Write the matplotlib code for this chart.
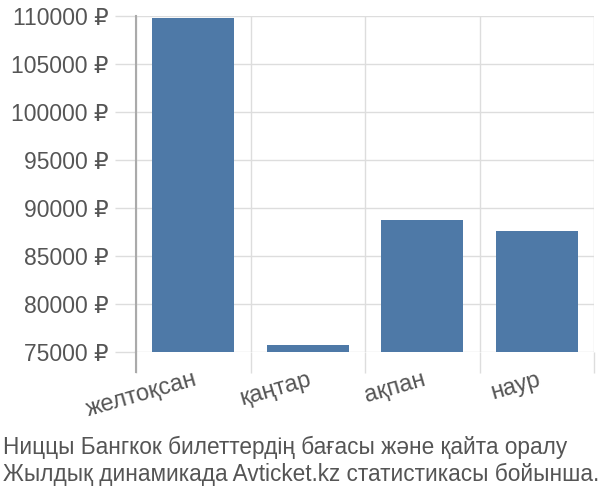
import matplotlib
matplotlib.use("Agg")
import matplotlib.pyplot as plt
from matplotlib.ticker import FixedLocator, FuncFormatter

plt.rcParams['font.family'] = ['Liberation Sans', 'DejaVu Sans']

months = ['желтоқсан', 'қаңтар', 'ақпан', 'наур']
prices = [109800, 75700, 88700, 87600]
y_ticks = [75000, 80000, 85000, 90000, 95000, 100000, 105000, 110000]
title = ('Ниццы Бангкок билеттердің бағасы және қайта оралу\n'
         'Жылдық динамикада Avticket.kz статистикасы бойынша.')

text_color = '#555555'
grid_color = '#dddddd'

fig = plt.figure(figsize=(6, 5), dpi=100)
ax = fig.add_axes([0.2267, 0.296, 0.7633, 0.672])

x = list(range(len(months)))
ax.bar(x, prices, width=0.72, color='#4e79a7', zorder=3)

ax.set_xlim(-0.5, len(months) - 0.5)
ax.set_ylim(y_ticks[0], y_ticks[-1])

# y ticks + grid
ax.yaxis.set_major_locator(FixedLocator(y_ticks))
ax.yaxis.set_major_formatter(FuncFormatter(lambda v, p: f'{int(v)} ₽'))
ax.tick_params(axis='y', length=15, width=1, color=grid_color,
               labelsize=16.5, labelcolor=text_color, pad=5)
ax.grid(axis='y', color=grid_color, linewidth=1, zorder=0)

# x: boundaries as minor ticks with grid, labels at centres
ax.xaxis.set_major_locator(FixedLocator(x))
ax.set_xticklabels(months, rotation=16, ha='right', va='top',
                   rotation_mode='anchor')
ax.xaxis.set_minor_locator(FixedLocator([i - 0.5 for i in range(len(months) + 1)]))
ax.tick_params(axis='x', which='major', length=0, labelsize=17,
               labelcolor=text_color, pad=12)
ax.tick_params(axis='x', which='minor', length=15, width=1, color=grid_color)
ax.grid(axis='x', which='minor', color=grid_color, linewidth=1, zorder=0)

for s in ['top', 'right', 'bottom']:
    ax.spines[s].set_visible(False)
ax.spines['left'].set_color('#aaaaaa')
ax.spines['left'].set_linewidth(1.5)
ax.plot([0, 0], [0, -0.06], transform=ax.transAxes, color='#aaaaaa',
        linewidth=1.5, clip_on=False, zorder=4)

fig.text(0.005, 0.028, title, fontsize=16.3, color=text_color,
         ha='left', va='bottom', linespacing=1.2)

fig.savefig('out.png', dpi=100)
